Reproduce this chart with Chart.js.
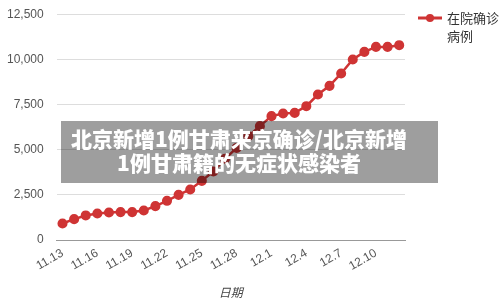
<!DOCTYPE html>
<html lang="zh">
<head>
    <meta charset="UTF-8">
    <title>在院确诊病例</title>
    <script src="https://cdn.jsdelivr.net/npm/chart.js"></script>
    <style>
        body {
            margin: 0;
            background: #fff;
        }
        #wrap {
            position: relative;
            width: 500px;
            height: 306px;
        }
        #banner {
            position: absolute;
            left: 61px;
            top: 121px;
            width: 377px;
            height: 62px;
            background: rgba(0, 0, 0, 0.38);
            color: #fff;
            font-family: "Noto Sans CJK SC", sans-serif;
            font-weight: 900;
            font-size: 21px;
            line-height: 24px;
            text-align: center;
            padding-top: 5px;
            padding-right: 21px;
            box-sizing: border-box;
            white-space: nowrap;
        }
    </style>
</head>
<body>
    <div id="wrap">
        <canvas id="grafica" width="500" height="306"></canvas>
        <div id="banner">北京新增1例甘肃来京确诊/北京新增<br>1例甘肃籍的无症状感染者</div>
    </div>

    <script>
        // 日期
        const fechas = [
            '11.13', '11.14', '11.15', '11.16', '11.17', '11.18', '11.19', '11.20', '11.21', '11.22',
            '11.23', '11.24', '11.25', '11.26', '11.27', '11.28', '11.29', '11.30', '12.1', '12.2',
            '12.3', '12.4', '12.5', '12.6', '12.7', '12.8', '12.9', '12.10', '12.11', '12.12'
        ];
        // 在院确诊病例
        const enHospital = [
            920, 1160, 1365, 1475, 1530, 1550, 1550, 1640, 1880, 2175,
            2505, 2800, 3280, 3800, 4500, 5100, 5750, 6305, 6860, 7005,
            7040, 7410, 8055, 8535, 9220, 9995, 10415, 10690, 10690, 10785
        ];
        const etiquetaSerie = ['在院确诊', '病例'];
        const rojo = '#cf3434';

        // leyenda a la derecha, en dos líneas
        const leyenda = {
            id: 'leyenda',
            afterDraw(chart) {
                const c = chart.ctx;
                const x = 418, y = 18;
                c.save();
                c.strokeStyle = rojo;
                c.lineWidth = 3;
                c.beginPath();
                c.moveTo(x, y);
                c.lineTo(x + 24, y);
                c.stroke();
                c.fillStyle = rojo;
                c.beginPath();
                c.arc(x + 12, y, 4, 0, Math.PI * 2);
                c.fill();
                c.fillStyle = '#333';
                c.font = '13px "Noto Sans CJK SC", sans-serif';
                c.textBaseline = 'middle';
                etiquetaSerie.forEach(function(t, i) {
                    c.fillText(t, x + 29, y + i * 18);
                });
                c.restore();
            }
        };

        new Chart(document.getElementById('grafica'), {
            type: 'line',
            data: {
                labels: fechas,
                datasets: [{
                    label: etiquetaSerie.join(''),
                    data: enHospital,
                    borderColor: rojo,
                    backgroundColor: rojo,
                    borderWidth: 2.5,
                    pointRadius: 3.8,
                    pointHoverRadius: 3.8,
                    tension: 0,
                    fill: false
                }]
            },
            options: {
                responsive: false,
                animation: false,
                layout: { padding: { top: 0, right: 95, left: 0, bottom: 2 } },
                plugins: {
                    legend: { display: false },
                    tooltip: { enabled: false }
                },
                scales: {
                    x: {
                        offset: true,
                        grid: { display: false, drawTicks: false },
                        border: { color: '#999', width: 1 },
                        ticks: {
                            autoSkip: false,
                            maxRotation: 30,
                            minRotation: 30,
                            padding: 6,
                            color: '#555',
                            font: { family: '"Liberation Sans", Arial', size: 12 },
                            callback: function(v, i) {
                                return i % 3 === 0 ? this.getLabelForValue(v) : '';
                            }
                        },
                        title: {
                            display: true,
                            text: '日期',
                            color: '#444',
                            padding: { top: 6 },
                            font: { family: '"Noto Sans CJK SC", sans-serif', size: 12, style: 'italic' }
                        }
                    },
                    y: {
                        min: 0,
                        max: 12500,
                        grid: {
                            drawTicks: true,
                            tickLength: 6,
                            tickColor: 'transparent',
                            color: function(ctx) { return ctx.tick.value === 0 ? '#999' : '#ddd'; }
                        },
                        border: { display: false },
                        ticks: {
                            stepSize: 2500,
                            padding: 7,
                            color: '#555',
                            font: { family: '"Liberation Sans", Arial', size: 12 },
                            callback: function(v) { return v.toLocaleString('en-US'); }
                        }
                    }
                }
            },
            plugins: [leyenda]
        });
    </script>
</body>
</html>
